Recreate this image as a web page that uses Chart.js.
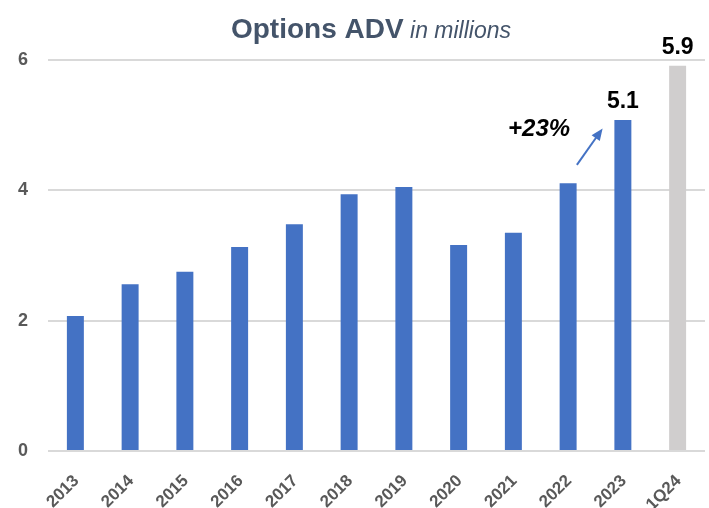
<!DOCTYPE html>
<html>
<head>
<meta charset="utf-8">
<script src="https://cdn.jsdelivr.net/npm/chart.js@4"></script>
<style>
  html, body { margin: 0; padding: 0; background: #fff; }
  #wrap { width: 709px; height: 508px; }
</style>
</head>
<body>
<div id="wrap"><canvas id="advChart" width="709" height="508"></canvas></div>
<script>
// Options ADV chart, values in millions
const years = ['2013', '2014', '2015', '2016', '2017', '2018', '2019', '2020', '2021', '2022', '2023', '1Q24'];
const adv = [2.07, 2.56, 2.75, 3.13, 3.48, 3.94, 4.05, 3.16, 3.35, 4.11, 5.08, 5.91];
const barColors = ['#4472C4', '#4472C4', '#4472C4', '#4472C4', '#4472C4', '#4472C4',
                   '#4472C4', '#4472C4', '#4472C4', '#4472C4', '#4472C4', '#D0CECE'];
const yTicks = [0, 2, 4, 6];
// labels shown on top of the last two bars
const valueLabels = { 10: '5.1', 11: '5.9' };
const growthText = '+23%';

const FONT = '"Liberation Sans", Arial, sans-serif';

// title, bar labels and the growth arrow
const overlay = {
    id: 'overlay',
    afterDraw(chart) {
        const ctx = chart.ctx;
        const x = chart.scales.x;
        const y = chart.scales.y;
        ctx.save();

        // title, two fonts on one line
        const t1 = 'Options ADV';
        const t2 = ' in millions';
        ctx.textBaseline = 'alphabetic';
        ctx.font = 'bold 28px ' + FONT;
        const w1 = ctx.measureText(t1).width;
        ctx.font = 'italic 23px ' + FONT;
        const w2 = ctx.measureText(t2).width;
        let tx = 371 - (w1 + w2) / 2;
        ctx.fillStyle = '#44546A';
        ctx.font = 'bold 28px ' + FONT;
        ctx.textAlign = 'left';
        ctx.fillText(t1, tx, 38);
        ctx.font = 'italic 23px ' + FONT;
        ctx.fillText(t2, tx + w1, 38);

        // value labels above bars
        ctx.fillStyle = '#000';
        ctx.font = 'bold 23px ' + FONT;
        ctx.textAlign = 'center';
        ctx.textBaseline = 'alphabetic';
        Object.keys(valueLabels).forEach(i => {
            const px = x.getPixelForValue(Number(i));
            const py = y.getPixelForValue(adv[i]);
            ctx.fillText(valueLabels[i], px, py - 12);
        });

        // growth text
        ctx.font = 'italic bold 24px ' + FONT;
        ctx.textBaseline = 'middle';
        ctx.fillText(growthText, x.getPixelForValue(8.47), y.getPixelForValue(4.94));

        // arrow
        const x0 = x.getPixelForValue(9.16), y0 = y.getPixelForValue(4.39);
        const x1 = x.getPixelForValue(9.63), y1 = y.getPixelForValue(4.95);
        const ang = Math.atan2(y1 - y0, x1 - x0);
        const head = 12;
        ctx.strokeStyle = '#4472C4';
        ctx.fillStyle = '#4472C4';
        ctx.lineWidth = 2;
        ctx.beginPath();
        ctx.moveTo(x0, y0);
        ctx.lineTo(x1 - Math.cos(ang) * head * 0.8, y1 - Math.sin(ang) * head * 0.8);
        ctx.stroke();
        ctx.beginPath();
        ctx.moveTo(x1, y1);
        ctx.lineTo(x1 - head * Math.cos(ang) + 5 * Math.sin(ang), y1 - head * Math.sin(ang) - 5 * Math.cos(ang));
        ctx.lineTo(x1 - head * Math.cos(ang) - 5 * Math.sin(ang), y1 - head * Math.sin(ang) + 5 * Math.cos(ang));
        ctx.closePath();
        ctx.fill();

        ctx.restore();
    }
};

const ctx = document.getElementById('advChart').getContext('2d');
new Chart(ctx, {
    type: 'bar',
    data: {
        labels: years,
        datasets: [{
            data: adv,
            backgroundColor: barColors,
            borderWidth: 0,
            categoryPercentage: 1,
            barPercentage: 0.31
        }]
    },
    options: {
        responsive: false,
        animation: false,
        layout: { padding: { top: 60, right: 4, left: 0, bottom: 0 } },
        plugins: {
            legend: { display: false },
            title: { display: false },
            tooltip: { enabled: false }
        },
        scales: {
            x: {
                grid: { display: false },
                border: { display: false },
                ticks: {
                    color: '#595959',
                    font: { family: FONT, size: 17, weight: 'bold' },
                    maxRotation: 45,
                    minRotation: 45,
                    padding: 12,
                    labelOffset: 1
                },
                afterFit(s) { s.height = 57; }
            },
            y: {
                min: 0,
                max: 6,
                afterBuildTicks(s) { s.ticks = yTicks.map(v => ({ value: v })); },
                grid: { color: '#D9D9D9', lineWidth: 2, drawTicks: false },
                border: { display: false },
                ticks: {
                    color: '#595959',
                    font: { family: FONT, size: 18, weight: 'bold' },
                    padding: 20
                },
                afterFit(s) { s.width = 48; }
            }
        }
    },
    plugins: [overlay]
});
</script>
</body>
</html>
